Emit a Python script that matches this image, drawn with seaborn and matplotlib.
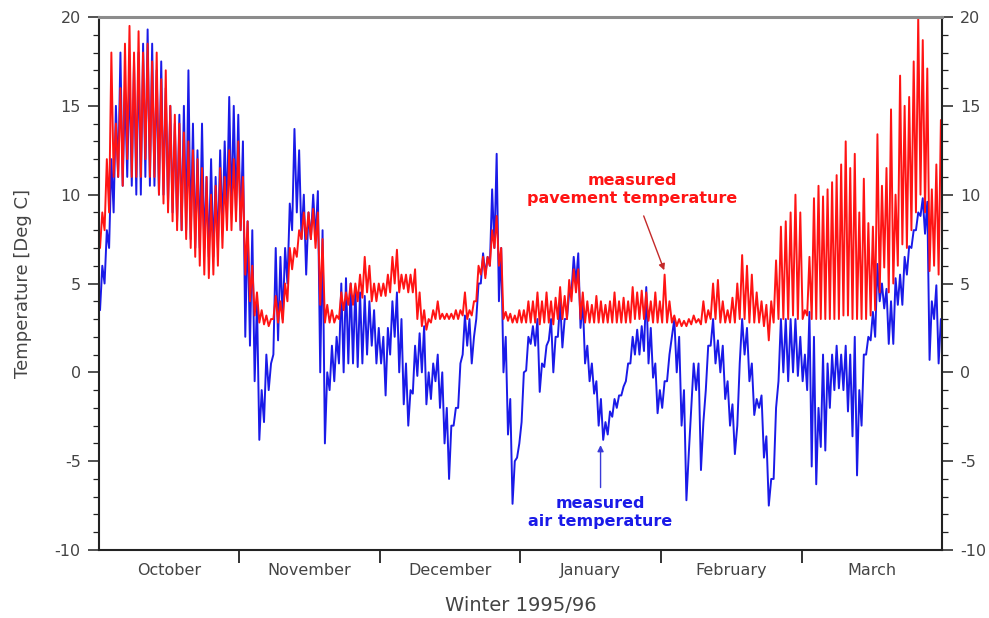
import numpy as np
import pandas as pd
import matplotlib
matplotlib.use("Agg")
import matplotlib.pyplot as plt
import seaborn as sns

# month labels on the x axis (each month gets equal width)
months = ['October', 'November', 'December', 'January', 'February', 'March']

# air temperature: night low, day high for each day
air_oct = [3.5, 6, 5, 8, 7, 12, 9, 15, 11, 18, 10.5, 16, 11, 17, 10.5, 17.5, 10, 18, 10, 18.5,
           11, 19.3, 10.5, 18.5, 10.5, 17, 10, 17.5, 10, 16, 9.5, 15, 9, 14, 8.5, 14.5, 8, 15, 8, 17,
           7.5, 14, 7, 12.5, 7, 14, 7, 11, 6.5, 12, 6.5, 11, 7, 12.5, 8, 13, 9, 15.5, 9, 15, 9, 14.5]
air_nov = [8, 13, 2, 8.5, 1.5, 8, -0.5, 4, -3.8, -1, -2.8, 1, -1, 0.5, 1, 7, 1.8, 6.5, 3, 7,
           5, 9.5, 8, 13.7, 9, 12.5, 7.5, 10, 5.5, 9, 7.5, 10, 7.5, 10.2, 0, 8, -4, 0, -1, 1.5,
           -0.5, 2, 0.5, 5, 0, 5.3, 0.5, 5, 0.5, 4.8, 0.3, 4.5, 0.5, 4.3, 1, 4, 1.5, 3.5, 0.5, 2.5]
air_dec = [0.5, 2, -1.3, 2.5, 1, 4, 2, 4.5, 0, 3, -1.8, 0.5, -3, -1, -1.2, 1.5, -0.2, 2.2, 0, 2.6,
           -1.8, 0, -1.5, 0.5, -0.5, 1, -2, 0, -4, -2, -6, -3, -3, -2, -2, 0.5, 1, 3.2, 1.5, 3,
           0.5, 2, 3, 5, 5, 6.7, 5.5, 6.5, 6, 10.3, 7, 12.3, 4, 7, 0, 2, -3.5, -1.5, -7.4, -5, -4.8, -4]
air_jan = [-2.8, 0, 0.1, 2, 1.6, 2.6, 1.5, 3, -1.1, 0.5, 0.3, 1.5, 1.8, 3, 0, 2, 2, 4, 1.4, 3,
           3, 4.5, 4.5, 6.5, 5, 6.7, 2.5, 4, 0.5, 1.5, -0.5, 0.5, -1.2, -0.5, -3, -1.5, -3.8, -2.8,
           -3.5, -2.2, -2.5, -1.5, -2, -1.3, -1.3, -0.8, -0.5, 0.5, 0.5, 2, 1, 2.4, 1, 2.6,
           1.2, 4.8, 0.5, 2.5, -0.3, 0.5, -2.3, -1]
air_feb = [-2, -0.5, -0.5, 1, 2, 3, 0, 2, -3, -1, -7.2, -4.5, -2, 0.5, -1, 0.5, -5.5, -2.8, -1, 1.5,
           1.5, 3, 0.5, 1.8, 0, 1.5, -1.5, -0.5, -3, -1.8, -4.6, -3, 0.5, 3, 1, 2.5, -0.5, 0.5,
           -2.4, -1.5, -2, -1.3, -4.8, -3.6, -7.5, -6, -6, -2, -0.5, 3, 0, 3, -0.5, 3, 0, 3, -0.2, 2]
air_mar = [-0.5, 1, -1, 3.4, -5.3, 2, -6.3, -2, -4.2, 1, -4.4, 0.5, -2, 1, -1, 1.5, -0.9, 1, -1, 1.5,
           -2.2, 1, -3.6, 2, -5.8, -1, -3, 1, 1, 2, 1.8, 3.4, 2, 6.1, 4, 5, 3.6, 4.7, 1.6, 4,
           1.6, 5.3, 3.8, 5.5, 3.8, 6.5, 5.5, 7.1, 7, 8, 8, 9, 8.8, 9.8, 7.8, 9.6, 0.7, 4, 3, 4.9, 0.5, 3]

# pavement temperature, same sampling
pave_oct = [7, 9, 8, 12, 9, 18, 11, 14, 11, 16, 10.5, 18.5, 12, 19.5, 11, 18, 11, 19.2, 11, 18,
            12, 18.5, 11, 17.5, 11, 18, 10, 16.5, 9.5, 17, 9, 15, 8.5, 14.5, 8, 14, 8, 13.5, 7.5, 13,
            7, 12.5, 6.5, 12, 6, 11.5, 5.5, 11, 5.3, 10, 5.5, 10.5, 6, 11.5, 7, 11, 8, 12.5, 8, 12, 8.5, 13]
pave_nov = [8, 11, 5.5, 8.5, 4, 6, 3.2, 4.5, 2.8, 3.5, 2.7, 3.2, 2.6, 3, 3, 4.3, 2.8, 4, 2.8, 5,
            4, 7, 5.8, 7, 6.5, 8, 7.5, 9, 7.5, 9, 7.5, 9.2, 7, 9, 3.8, 7.5, 2.8, 3.8, 2.8, 3.5,
            2.8, 3.2, 3, 4.5, 3.5, 4.5, 3.8, 5, 3.8, 5, 4, 5.5, 4.2, 6.5, 4.5, 6, 4, 5, 4, 5]
pave_dec = [4.3, 5, 4.3, 5.5, 4.5, 6.5, 5, 6.9, 4.5, 5.5, 4.7, 5.5, 4.5, 5.5, 4.5, 5.8, 3, 4.5, 2.6, 3.5,
            2.4, 3, 2.8, 3.5, 3, 4, 3, 3.3, 3, 3.3, 3, 3.3, 3, 3.5, 3, 3.5, 3.2, 4.5, 3, 3.5,
            3.2, 4, 4, 6, 5.5, 6.5, 5.3, 6.5, 6, 8, 7, 8.8, 6, 7, 3, 3.4, 2.9, 3.3, 2.8, 3.2, 2.8, 3.5]
pave_jan = [2.8, 3.5, 2.8, 4, 2.8, 4, 2.8, 4.5, 2.7, 4, 2.8, 4.5, 2.8, 4, 2.7, 4.2, 3, 4.8, 3, 4.3,
            3, 5.2, 4, 5.8, 4.5, 5.8, 3, 4.5, 2.8, 4, 2.8, 3.8, 2.8, 4.3, 2.8, 4, 2.8, 3.8, 2.8, 4,
            2.8, 4.5, 2.8, 4, 2.8, 4.2, 2.8, 4, 2.8, 4.8, 3, 4.5, 3, 4.6, 3, 4.5, 2.9, 4, 2.8, 4.5, 2.8, 4]
pave_feb = [2.8, 5.5, 2.8, 4, 2.8, 3.2, 2.6, 3, 2.6, 2.9, 2.6, 3, 2.7, 3.2, 2.8, 3, 2.7, 4, 2.8, 3.5,
            3, 5, 3, 5.2, 2.8, 4, 2.8, 3.5, 2.8, 4.2, 2.8, 5, 3, 6.6, 3, 6, 2.8, 5.5, 2.8, 4.5,
            2.8, 4, 2.6, 3.8, 1.8, 4, 2.8, 6.3, 3, 8.2, 3, 8.5, 3, 9, 3.2, 10, 3, 9]
pave_mar = [3, 3.5, 3.2, 6.5, 3, 9.8, 3, 10.5, 3, 9.9, 3, 10.3, 3, 10.7, 3, 11.1, 3, 11.7, 3.2, 13,
            3.2, 11.5, 3, 12.3, 3, 9, 3, 10.9, 3, 8.4, 3.2, 8.2, 3.5, 13.4, 4.5, 10.5, 5.9, 11.5,
            4.5, 14.8, 5, 10, 6, 16.7, 7.2, 15, 7, 15.5, 8, 17.5, 9, 20, 10, 18.7, 9, 17.1,
            5.7, 10.3, 6, 11.7, 5.5, 14.2]

air_months = [air_oct, air_nov, air_dec, air_jan, air_feb, air_mar]
pave_months = [pave_oct, pave_nov, pave_dec, pave_jan, pave_feb, pave_mar]


def to_frame(per_month):
    parts = []
    for m, vals in enumerate(per_month):
        n = len(vals)
        parts.append(pd.DataFrame({'t': m + (np.arange(n) + 0.5) / n, 'temp': vals}))
    return pd.concat(parts, ignore_index=True)


air = to_frame(air_months)
pave = to_frame(pave_months)

BLUE = '#1a1ae8'
RED = '#ff1414'
GREY_TXT = '#444444'

sns.set_style("white")
plt.rcParams['font.family'] = ['DejaVu Sans']
plt.rcParams['axes.unicode_minus'] = False

fig, ax = plt.subplots(figsize=(9.89, 6.18), dpi=100)
fig.subplots_adjust(left=0.1, right=0.9525, top=0.9725, bottom=0.11)

sns.lineplot(data=air, x='t', y='temp', color=BLUE, linewidth=1.4, estimator=None, sort=False, ax=ax)
sns.lineplot(data=pave, x='t', y='temp', color=RED, linewidth=1.4, estimator=None, sort=False, ax=ax)

ax.set_xlim(0, 6)
ax.set_ylim(-10, 20)

# month boundaries as ticks, month names centred in between
ax.set_xticks([1, 2, 3, 4, 5])
ax.set_xticklabels([])
ax.set_xticks(np.arange(6) + 0.5, minor=True)
ax.set_xticklabels(months, minor=True, fontsize=11.5, color=GREY_TXT)
ax.tick_params(axis='x', which='major', direction='out', length=9, width=1.3, color='#222222', bottom=True)
ax.tick_params(axis='x', which='minor', length=0, pad=9)

ax.set_yticks(np.arange(-10, 21, 5))
ax.set_yticks(np.arange(-10, 21, 1), minor=True)
ax.tick_params(axis='y', which='both', direction='out', left=True, right=True,
               labelleft=True, labelright=True, labelsize=11.5, labelcolor=GREY_TXT, color='#222222')
ax.tick_params(axis='y', which='major', length=8, width=1.1, pad=5)
ax.tick_params(axis='y', which='minor', length=4.5, width=0.9)

ax.set_xlabel('Winter 1995/96', fontsize=14, labelpad=13, color=GREY_TXT)
ax.set_ylabel('Temperature [Deg C]', fontsize=13, labelpad=16, color=GREY_TXT)

for side in ['left', 'right', 'bottom']:
    ax.spines[side].set_color('#222222')
    ax.spines[side].set_linewidth(1.5)
ax.spines['top'].set_color('0.55')
ax.spines['top'].set_linewidth(2.2)

ax.text(3.795, 10.3, 'measured\npavement temperature', color=RED, ha='center', va='center',
        fontsize=11.5, fontweight='bold')
ax.annotate('', xy=(4.03, 5.6), xytext=(3.87, 8.95),
            arrowprops=dict(arrowstyle='-|>', color='#c42a2a', lw=1.0, mutation_scale=9))

ax.text(3.567, -7.88, 'measured\nair temperature', color=BLUE, ha='center', va='center',
        fontsize=11.5, fontweight='bold')
ax.annotate('', xy=(3.57, -3.94), xytext=(3.57, -6.64),
            arrowprops=dict(arrowstyle='-|>', color='#3a3ad8', lw=1.0, mutation_scale=9))

fig.savefig('out.png', dpi=100)
